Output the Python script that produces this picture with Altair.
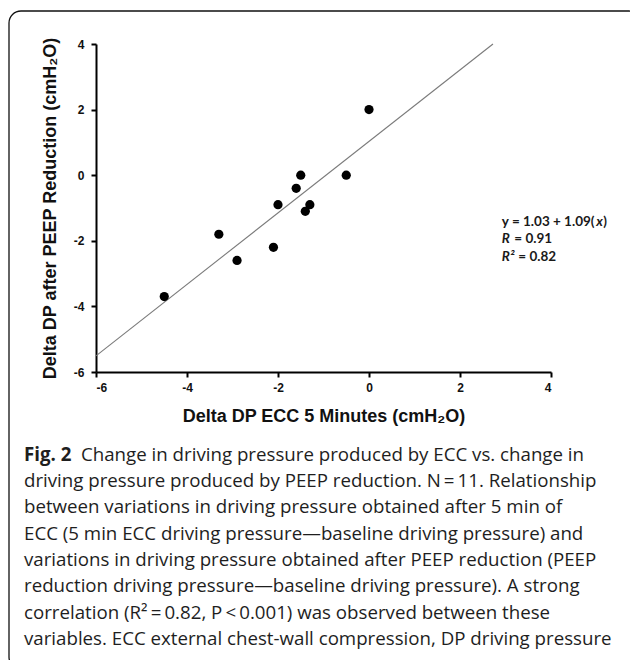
import altair as alt
import pandas as pd

# ---- data ----
ecc_dp = [-4.5, -3.3, -2.9, -2.1, -2.0, -1.6, -1.5, -1.4, -1.3, -0.5, 0.0]
peep_dp = [-3.7, -1.8, -2.6, -2.2, -0.9, -0.4, 0.0, -1.1, -0.9, 0.0, 2.0]
intercept = 1.03
slope = 1.09
axis_ticks = [-6, -4, -2, 0, 2, 4]
x_title = "Delta DP ECC 5 Minutes (cmH\u2082O)"
y_title = "Delta DP after PEEP Reduction (cmH\u2082O)"
caption_bold = "Fig. 2"
caption_first = "Change in driving pressure produced by ECC vs. change in"
caption_rest = [
    "driving pressure produced by PEEP reduction. N\u2009=\u200911. Relationship",
    "between variations in driving pressure obtained after 5 min of",
    "ECC (5 min ECC driving pressure\u2014baseline driving pressure) and",
    "variations in driving pressure obtained after PEEP reduction (PEEP",
    "reduction driving pressure\u2014baseline driving pressure). A strong",
    "correlation (R\u00b2\u2009=\u20090.82, P\u2009<\u20090.001) was observed between these",
    "variables. ECC external chest-wall compression, DP driving pressure",
]

points = pd.DataFrame({"ecc": ecc_dp, "peep": peep_dp})
x_end = (max(axis_ticks) - intercept) / slope
fit = pd.DataFrame({"ecc": [min(axis_ticks), x_end]})
fit["peep"] = intercept + slope * fit["ecc"]

W, H = 455, 328
xs = alt.Scale(domain=[-6, 4], nice=False, zero=False)
ys = alt.Scale(domain=[-6, 4], nice=False, zero=False)

x_axis = alt.Axis(values=axis_ticks, title=x_title, labelExpr="'' + datum.value",
                  grid=False, labelPadding=5, titlePadding=14)
y_axis = alt.Axis(values=axis_ticks, title=y_title, labelExpr="'' + datum.value",
                  grid=False, labelPadding=7, titlePadding=14)

pts = alt.Chart(points).mark_circle(size=85, color="black", opacity=1).encode(
    x=alt.X("ecc:Q", scale=xs, axis=x_axis),
    y=alt.Y("peep:Q", scale=ys, axis=y_axis),
)

line = alt.Chart(fit).mark_line(color="#7a7a7a", strokeWidth=1.1).encode(
    x=alt.X("ecc:Q", scale=xs),
    y=alt.Y("peep:Q", scale=ys),
)

# equation annotation (anchored in data space)
eq_x, eq_y = 2.92, [-1.42, -1.96, -2.49]
eq_font = dict(font="Lato", fontSize=13.5, fontWeight="bold", color="#1a1a1a",
               align="left", baseline="middle")
anchor = lambda yy: pd.DataFrame({"ecc": [eq_x], "peep": [yy]})
def eq_text(txt, yy, dx=0, italic=False):
    kw = dict(eq_font)
    if italic:
        kw["fontStyle"] = "italic"
    return alt.Chart(anchor(yy)).mark_text(text=txt, dx=dx, **kw).encode(
        x=alt.X("ecc:Q", scale=xs), y=alt.Y("peep:Q", scale=ys))

eq = (eq_text("y = 1.03 + 1.09(", eq_y[0]) + eq_text("x", eq_y[0], dx=94.5, italic=True)
      + eq_text(")", eq_y[0], dx=101.5)
      + eq_text("R", eq_y[1], italic=True) + eq_text("= 0.91", eq_y[1], dx=12.5)
      + eq_text("R\u00b2", eq_y[2], italic=True) + eq_text("= 0.82", eq_y[2], dx=16.5))

one = pd.DataFrame({"k": [0]})
border = alt.Chart(one).mark_rect(filled=False, stroke="#111", strokeWidth=1.3,
                                  cornerRadius=12).encode(
    x=alt.value(-87), x2=alt.value(545), y=alt.value(-33), y2=alt.value(625))

cap_font = dict(font="Open Sans", fontSize=18.7, color="#1e1e1e", align="left",
                baseline="alphabetic")
cap_bold = alt.Chart(one).mark_text(text=caption_bold, fontWeight="bold", **cap_font).encode(
    x=alt.value(-72), y=alt.value(416.5))
cap_1 = alt.Chart(one).mark_text(text=caption_first, **cap_font).encode(
    x=alt.value(-15), y=alt.value(416.5))
cap_rest = alt.Chart(one).mark_text(text=caption_rest, lineHeight=26.4, **cap_font).encode(
    x=alt.value(-72), y=alt.value(442.9))

chart = alt.layer(border, line, pts, eq, cap_bold, cap_1, cap_rest).properties(
    width=W, height=H,
    background="white",
    autosize=alt.AutoSizeParams(type="none"),
    padding={"left": 96, "top": 44, "right": 79, "bottom": 288},
).configure_view(stroke=None).configure_axis(
    grid=False, domainColor="black", domainWidth=2, tickColor="black", tickWidth=2,
    tickSize=5, labelFont="Liberation Sans", labelFontWeight="bold", labelFontSize=12,
    labelColor="#111", titleFont="Liberation Sans", titleFontSize=18,
    titleFontWeight="bold", titleColor="#111",
)

chart.save("out.html", embed_options={"renderer": "svg", "actions": False})
